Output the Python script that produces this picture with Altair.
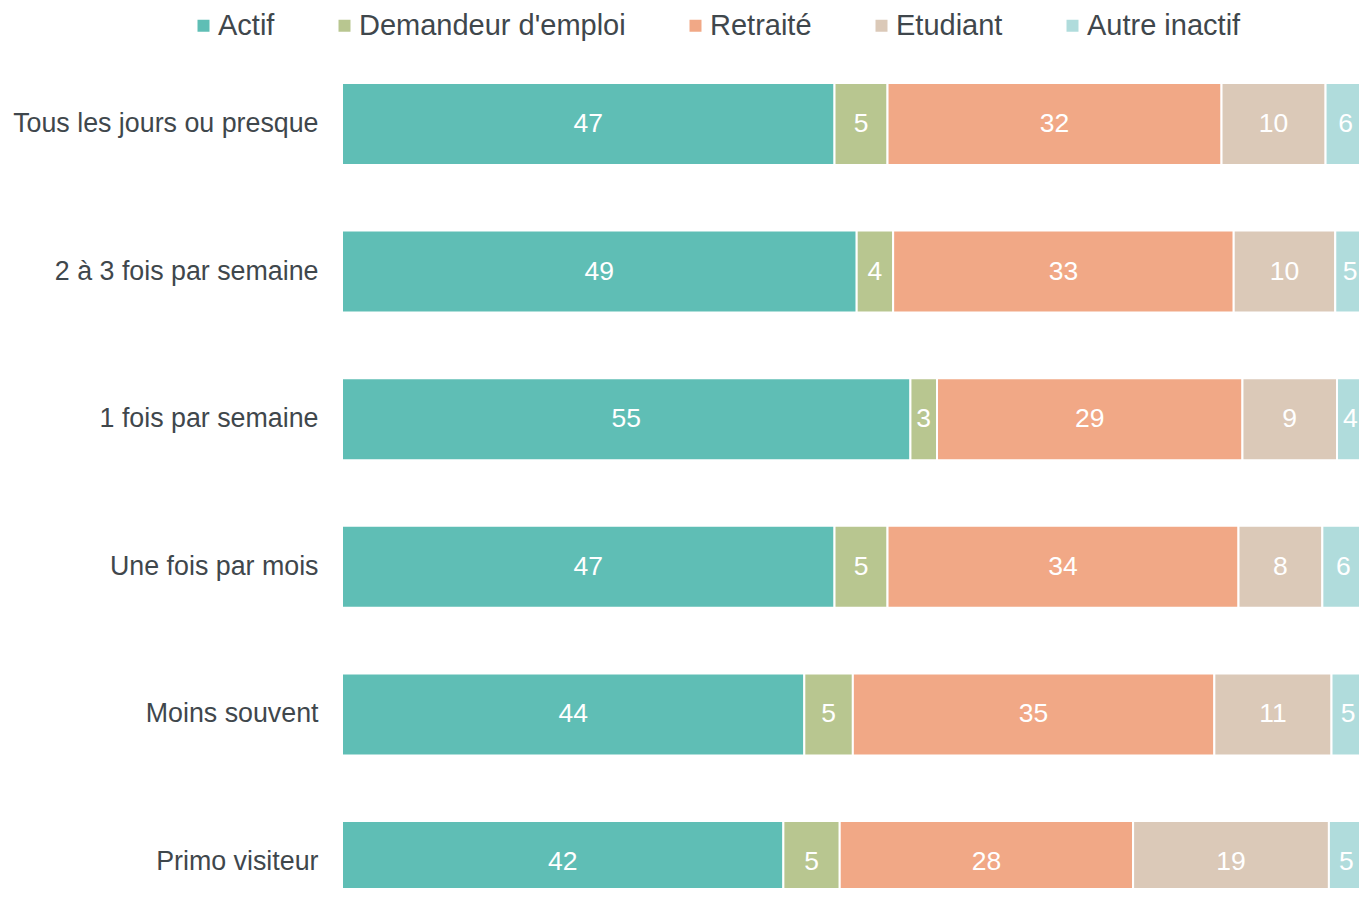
import altair as alt
import pandas as pd

frequences = ["Tous les jours ou presque", "2 à 3 fois par semaine", "1 fois par semaine",
              "Une fois par mois", "Moins souvent", "Primo visiteur"]
statuts = ["Actif", "Demandeur d'emploi", "Retraité", "Etudiant", "Autre inactif"]
couleurs = ["#5fbeb5", "#b8c690", "#f1a886", "#dbc9b8", "#b0dcdc"]

actif = [47.29, 49.42, 54.58, 47.29, 44.39, 42.38]
demandeur = [5.09, 3.50, 2.55, 5.09, 4.66, 5.41]
retraite = [32.07, 32.70, 29.33, 33.70, 34.71, 28.17]
etudiant = [9.99, 9.75, 9.08, 8.05, 11.25, 18.80]
autre = [5.60, 4.60, 4.30, 5.75, 4.90, 5.10]

series = [actif, demandeur, retraite, etudiant, autre]
rows = []
for si, (s, vals) in enumerate(zip(statuts, series)):
    for fi, (f, v) in enumerate(zip(frequences, vals)):
        rows.append({"freq": f, "statut": s, "ordre": si, "value": v})
df = pd.DataFrame(rows)

FONT = "Liberation Sans"
TXT = "#3f474c"

base = alt.Chart(df).transform_stack(
    stack="value", groupby=["freq"], as_=["v0", "v1"],
    sort=[alt.SortField("ordre", order="ascending")]
).transform_calculate(
    mid="(datum.v0 + datum.v1) / 2",
    lab="format(datum.value, '.0f')"
)

xscale = alt.Scale(domain=[0, 97.65], nice=False, zero=False)
yscale = alt.Scale(domain=frequences, range=[0, 886], paddingInner=0.4444, paddingOuter=0.2236)

bars = base.mark_bar(clip=True, stroke="white", strokeWidth=2).encode(
    x=alt.X("v0:Q", scale=xscale, axis=None),
    x2="v1:Q",
    y=alt.Y("freq:N", scale=yscale, title=None,
            axis=alt.Axis(domain=False, ticks=False, tickSize=0, labelPadding=24,
                          labelFont=FONT, labelFontSize=26.8, labelColor=TXT,
                          labelLimit=400)),
    color=alt.Color("statut:N", scale=alt.Scale(domain=statuts, range=couleurs),
                    legend=alt.Legend(title=None, orient="none", direction="horizontal",
                                      columns=5, legendX=-153, legendY=-39,
                                      symbolType="square", symbolSize=144,
                                      symbolStrokeWidth=0, labelOffset=0,
                                      columnPadding=55, labelFont=FONT,
                                      labelFontSize=29, labelColor=TXT,
                                      labelLimit=400)),
)

labels_main = base.transform_filter(
    alt.datum.statut != "Autre inactif"
).mark_text(clip=True, color="white", font=FONT, fontSize=26.5,
            baseline="middle", align="center").encode(
    x=alt.X("mid:Q", scale=xscale),
    y=alt.Y("freq:N", scale=yscale),
    text="lab:N",
)

labels_last = base.transform_filter(
    alt.datum.statut == "Autre inactif"
).mark_text(clip=True, color="white", font=FONT, fontSize=26.5,
            baseline="middle", align="center", dx=-9).encode(
    x=alt.X("mid:Q", scale=xscale),
    y=alt.Y("freq:N", scale=yscale),
    text="lab:N",
)

chart = alt.layer(bars, labels_main, labels_last).properties(
    width=1017, height=838,
    autosize=alt.AutoSizeParams(type="none"),
    padding={"left": 334, "top": 42, "right": 0, "bottom": 0},
).configure_view(stroke=None)

chart.save("out.html", embed_options={"renderer": "svg", "actions": False})
